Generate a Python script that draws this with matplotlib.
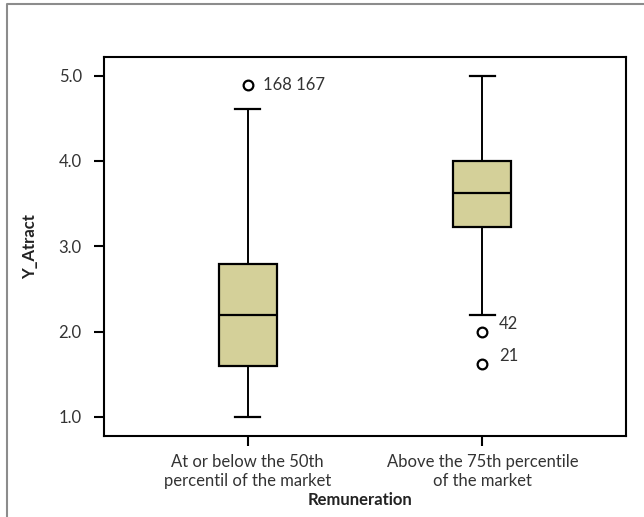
import matplotlib.pyplot as plt
from matplotlib.lines import Line2D

plt.rcParams['font.family'] = ['Lato', 'DejaVu Sans']

groups = ["At or below the 50th\npercentil of the market", "Above the 75th percentile\nof the market"]
q1 = [1.6, 3.22]
med = [2.2, 3.62]
q3 = [2.79, 4.0]
whislo = [1.0, 2.2]
whishi = [4.61, 5.0]
fliers = [[4.89], [2.0, 1.62]]
flier_ids = [["168 167"], ["42", "21"]]
yticks = [1.0, 2.0, 3.0, 4.0, 5.0]

stats = []
for i in range(len(groups)):
    stats.append(dict(q1=q1[i], med=med[i], q3=q3[i], whislo=whislo[i],
                      whishi=whishi[i], fliers=fliers[i], label=groups[i]))

W, H = 644, 517
fig = plt.figure(figsize=(W / 100, H / 100), dpi=100)
# grey frame around the chart (only top and left edges fall inside the image)
fig.add_artist(Line2D([7 / W, 7 / W, 1], [0, 1 - 4 / H, 1 - 4 / H],
                      transform=fig.transFigure, color='#8c8c8c', linewidth=1.5))
ax = fig.add_axes([104 / W, 1 - 436 / H, (626 - 104) / W, (436 - 57) / H])

bp = ax.bxp(stats, positions=[1, 2], widths=0.247, capwidths=[0.109, 0.109],
            patch_artist=True,
            boxprops=dict(facecolor='#d4d099', edgecolor='black', linewidth=1.6),
            medianprops=dict(color='black', linewidth=1.6),
            whiskerprops=dict(color='black', linewidth=1.4),
            capprops=dict(color='black', linewidth=1.6),
            flierprops=dict(marker='o', markersize=7, markerfacecolor='white',
                            markeredgecolor='black', markeredgewidth=1.6))

for i, (vals, ids) in enumerate(zip(fliers, flier_ids)):
    for j, (v, t) in enumerate(zip(vals, ids)):
        dx, dy = (11, 0) if i == 0 else (12, 5.5)
        ax.annotate(t, (i + 1, v), xytext=(dx, dy), textcoords='offset points',
                    va='center', ha='left', fontsize=12, color='#333333')

ax.set_xlim(0.389, 2.611)
ax.set_ylim(0.777, 5.217)
ax.set_yticks(yticks)
ax.set_yticklabels([f"{v:.1f}" for v in yticks])
ax.tick_params(axis='both', direction='out', length=7, width=1.5, labelsize=12,
               labelcolor='#333333')
ax.tick_params(axis='y', pad=9)
ax.tick_params(axis='x', pad=6)
for s in ax.spines.values():
    s.set_linewidth(1.5)
ax.set_ylabel("Y_Atract", fontsize=12, fontweight='bold', labelpad=15, color='#222222')
ax.set_xlabel("Remuneration", fontsize=12, fontweight='bold', color='#222222')
ax.xaxis.set_label_coords(0.491, -0.148)

fig.savefig("out.png", dpi=100)
